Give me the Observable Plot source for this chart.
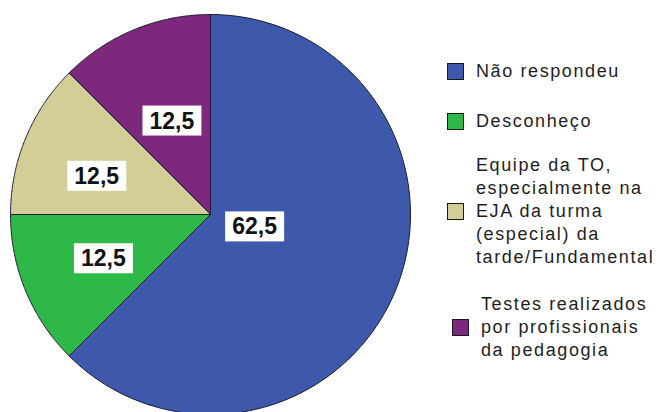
<!DOCTYPE html>
<html>
<head>
<meta charset="utf-8">
<script src="https://cdn.jsdelivr.net/npm/d3@7"></script>
<script src="https://cdn.jsdelivr.net/npm/@observablehq/plot@0.6"></script>
<style>
  html, body { margin: 0; padding: 0; background: #fff; }
  #wrap { position: relative; width: 656px; height: 412px; overflow: hidden; background: #fff; }
  #chart { position: absolute; left: 0; top: 0; }
  #legend { position: absolute; left: 447px; top: 60px; display: flex; flex-direction: column; gap: 24px;
            font-family: "Liberation Sans", Arial, sans-serif; font-size: 18px; letter-spacing: 1.6px; color: #1e1e1e; }
  .item { display: flex; align-items: center; }
  .item:nth-child(2) { margin-top: 3px; margin-bottom: -3px; }
  .item:nth-child(4) { padding-left: 5px; }
  .sw { width: 15px; height: 15px; border: 1.5px solid #1a1a1a; margin-right: 12px; flex: none; }
  .lab { white-space: pre; line-height: 23px; }
</style>
</head>
<body>
<div id="wrap"><div id="chart"></div><div id="legend"></div></div>
<script>
// ---- data ----
const categories = [
  "Não respondeu",
  "Desconheço",
  "Equipe da TO,\nespecialmente na\nEJA da turma\n(especial) da\ntarde/Fundamental",
  "Testes realizados\npor profissionais\nda pedagogia"
];
const values = [62.5, 12.5, 12.5, 12.5];
const colors = ["#3E58AC", "#2EB848", "#D3CE97", "#7C287D"];

// ---- layout config (label placement inside slices) ----
const labelRadius = [0.229, 0.58, 0.6, 0.505];
const labelAngleShift = [-6.6, 0, -4, 0]; // degrees
const fmt = v => String(v).replace(".", ",");

const arcs = d3.pie().sort(null).value(d => d)(values);
const slicePts = [];
arcs.forEach((a, i) => {
  const n = 120;
  slicePts.push({cat: categories[i], x: 0, y: 0});
  for (let k = 0; k <= n; k++) {
    const t = a.startAngle + (a.endAngle - a.startAngle) * k / n;
    slicePts.push({cat: categories[i], x: Math.sin(t), y: Math.cos(t)});
  }
  slicePts.push({cat: categories[i], x: 0, y: 0});
});
const labels = arcs.map((a, i) => {
  const m = (a.startAngle + a.endAngle) / 2 + labelAngleShift[i] * Math.PI / 180;
  return {cat: categories[i], text: fmt(values[i]), x: labelRadius[i] * Math.sin(m), y: labelRadius[i] * Math.cos(m)};
});

const plot = Plot.plot({
  width: 656, height: 412,
  margin: 0,
  x: {domain: [-1, 1], range: [10, 410], axis: null},
  y: {domain: [-1, 1], range: [414, 14], axis: null},
  color: {domain: categories, range: colors},
  style: {background: "transparent", overflow: "visible"},
  marks: [
    Plot.line(slicePts, {x: "x", y: "y", z: "cat", fill: "cat", stroke: "#1c1c2e", strokeWidth: 1, strokeLinejoin: "round"}),
    Plot.text(labels, {x: "x", y: "y", text: "text", fill: "#111", fontSize: 23, fontWeight: "bold",
                       fontFamily: "Liberation Sans, Arial, sans-serif"})
  ]
});
document.getElementById("chart").appendChild(plot);

// white boxes behind value labels
plot.querySelectorAll('g[aria-label="text"] text').forEach(t => {
  const b = t.getBBox();
  const r = document.createElementNS("http://www.w3.org/2000/svg", "rect");
  const padX = 7, padY = 3;
  r.setAttribute("x", b.x - padX);
  r.setAttribute("y", b.y - padY + 1);
  r.setAttribute("width", b.width + 2 * padX);
  r.setAttribute("height", b.height + 2 * padY - 2);
  r.setAttribute("fill", "#fff");
  if (t.getAttribute("transform")) r.setAttribute("transform", t.getAttribute("transform"));
  t.parentNode.insertBefore(r, t);
});

// legend
const lg = document.getElementById("legend");
categories.forEach((c, i) => {
  const it = document.createElement("div");
  it.className = "item";
  const sw = document.createElement("div");
  sw.className = "sw";
  sw.style.background = colors[i];
  const lb = document.createElement("div");
  lb.className = "lab";
  lb.textContent = c;
  it.appendChild(sw); it.appendChild(lb);
  lg.appendChild(it);
});
</script>
</body>
</html>
